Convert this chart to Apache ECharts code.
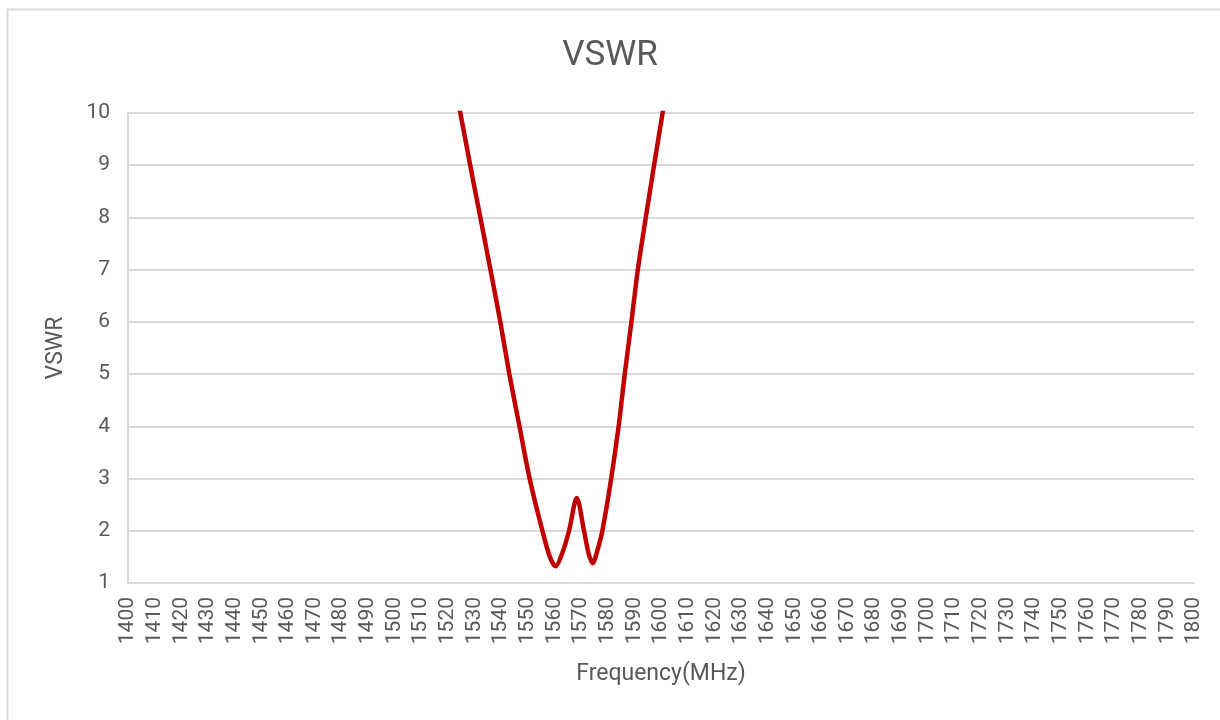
<!DOCTYPE html>
<head>
    <meta charset="utf-8">
    <title>VSWR</title>
    <style>
        html, body { margin: 0; padding: 0; background: #fff; }
    </style>
</head>
<body>
    <script type="text/javascript" src="https://cdn.jsdelivr.net/npm/echarts@6/dist/echarts.min.js"></script>

    <div id="main" style="width: 1220px;height:720px;"></div>

    <script type="text/javascript">
        // 频率 (MHz) 和 VSWR
        var freq = [1521.0, 1524.7, 1528.4, 1532.2, 1536.0, 1539.7, 1543.1, 1546.9, 1550.7, 1555.5,
                    1558.3, 1560.5, 1562.8, 1565.5, 1568.4, 1571.1, 1572.9, 1574.4, 1576.0, 1578.0,
                    1581.3, 1584.1, 1586.4, 1588.9, 1591.3, 1594.3, 1597.4, 1600.6, 1603.2];
        var vswr = [10.9, 10, 9, 8, 7, 6, 5, 4, 3, 2,
                    1.5, 1.32, 1.55, 2.0, 2.63, 2.0, 1.55, 1.38, 1.6, 2.0,
                    3, 4, 5, 6, 7, 8, 9, 10, 10.8];
        var yTicks = [1, 10];   // y axis min / max
        var xTicks = [1400, 1800, 10]; // x axis min / max / step

        var points = [];
        for (var i = 0; i < freq.length; i++) {
            points.push([freq[i], vswr[i]]);
        }

        var textColor = '#595959';
        var gridColor = '#d9d9d9';
        var font = 'Roboto, "Noto Sans", sans-serif';

        var myChart = echarts.init(document.getElementById('main'));
        myChart.setOption({
            animation: false,
            title: {
                text: 'VSWR',
                left: 'center',
                top: 34,
                textStyle: { color: textColor, fontSize: 35, fontWeight: 'normal', fontFamily: font }
            },
            grid: { left: 128, right: 26, top: 113, bottom: 137, containLabel: false },
            graphic: [{
                type: 'rect',
                shape: { x: 7.5, y: 9.5, width: 1240, height: 740 },
                style: { fill: 'none', stroke: gridColor, lineWidth: 2 },
                silent: true
            }],
            xAxis: {
                type: 'value',
                min: xTicks[0],
                max: xTicks[1],
                interval: xTicks[2],
                name: 'Frequency(MHz)',
                nameLocation: 'middle',
                nameGap: 80,
                nameTextStyle: { color: textColor, fontSize: 23, fontFamily: font },
                axisLine: { show: true, lineStyle: { color: gridColor, width: 2 } },
                axisTick: { show: false },
                splitLine: { show: false },
                axisLabel: {
                    rotate: 90,
                    margin: 14,
                    color: textColor,
                    fontSize: 21,
                    fontFamily: font,
                    showMinLabel: true,
                    showMaxLabel: true,
                    formatter: function (v) { return String(v); }
                }
            },
            yAxis: {
                type: 'value',
                min: yTicks[0],
                max: yTicks[1],
                interval: 1,
                name: 'VSWR',
                nameLocation: 'middle',
                nameGap: 60,
                nameTextStyle: { color: textColor, fontSize: 23, fontFamily: font },
                axisLine: { show: true, lineStyle: { color: gridColor, width: 2 } },
                axisTick: { show: false },
                splitLine: { show: true, lineStyle: { color: gridColor, width: 2 } },
                axisLabel: { color: textColor, fontSize: 21, fontFamily: font, margin: 18 }
            },
            series: [{
                name: 'VSWR',
                type: 'line',
                data: points,
                smooth: 0.3,
                showSymbol: false,
                clip: true,
                lineStyle: { color: '#C00000', width: 4.5 }
            }]
        });
    </script>
</body>
